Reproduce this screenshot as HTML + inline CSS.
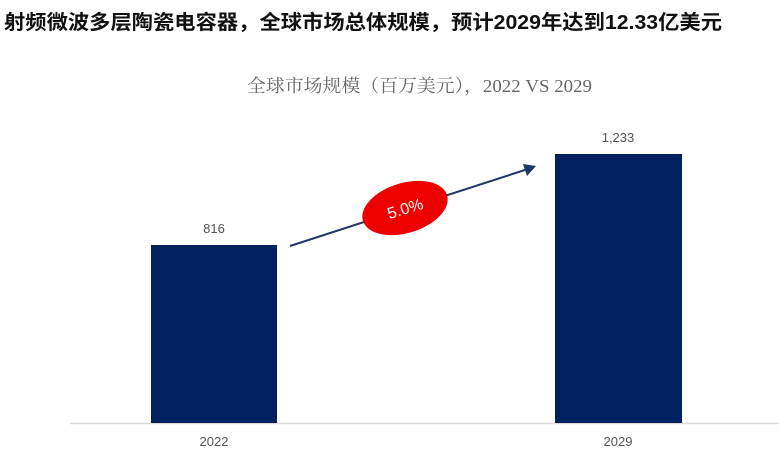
<!DOCTYPE html>
<html><head><meta charset="utf-8"><style>
html,body{margin:0;padding:0;background:#fff;width:779px;height:461px;overflow:hidden}
svg{display:block}
</style></head><body>
<svg width="779" height="461" viewBox="0 0 779 461" xmlns="http://www.w3.org/2000/svg">
<text x="4" y="29" font-family="Liberation Sans, Noto Sans CJK SC, sans-serif" font-size="20" font-weight="bold" fill="#111" textLength="718" lengthAdjust="spacingAndGlyphs">射频微波多层陶瓷电容器，全球市场总体规模，预计2029年达到12.33亿美元</text>
<text x="247" y="92" font-family="Liberation Serif, Noto Serif CJK SC, serif" font-size="18" fill="#666" textLength="345" lengthAdjust="spacingAndGlyphs">全球市场规模（百万美元），2022 VS 2029</text>
<line x1="70" y1="423.5" x2="779" y2="423.5" stroke="#d9d9d9" stroke-width="1.5"/>
<rect x="151" y="245" width="126" height="178" fill="#002060"/>
<rect x="555" y="154" width="127" height="269" fill="#002060"/>
<text x="214" y="233" text-anchor="middle" font-family="Liberation Sans, sans-serif" font-size="13" fill="#555">816</text>
<text x="618" y="142" text-anchor="middle" font-family="Liberation Sans, sans-serif" font-size="13" fill="#555">1,233</text>
<text x="214" y="446" text-anchor="middle" font-family="Liberation Sans, sans-serif" font-size="13" fill="#555">2022</text>
<text x="618" y="446" text-anchor="middle" font-family="Liberation Sans, sans-serif" font-size="13" fill="#555">2029</text>
<line x1="290" y1="246" x2="528" y2="169" stroke="#1f3864" stroke-width="2"/>
<polygon points="536,166 523,164 527,176" fill="#1f3864"/>
<ellipse cx="405" cy="208" rx="44" ry="25" transform="rotate(-17 405 208)" fill="#ee0000"/>
<text x="405" y="214" text-anchor="middle" transform="rotate(-17 405 208)" font-family="Liberation Sans, sans-serif" font-size="16" fill="#fff">5.0%</text>
</svg>
</body></html>
